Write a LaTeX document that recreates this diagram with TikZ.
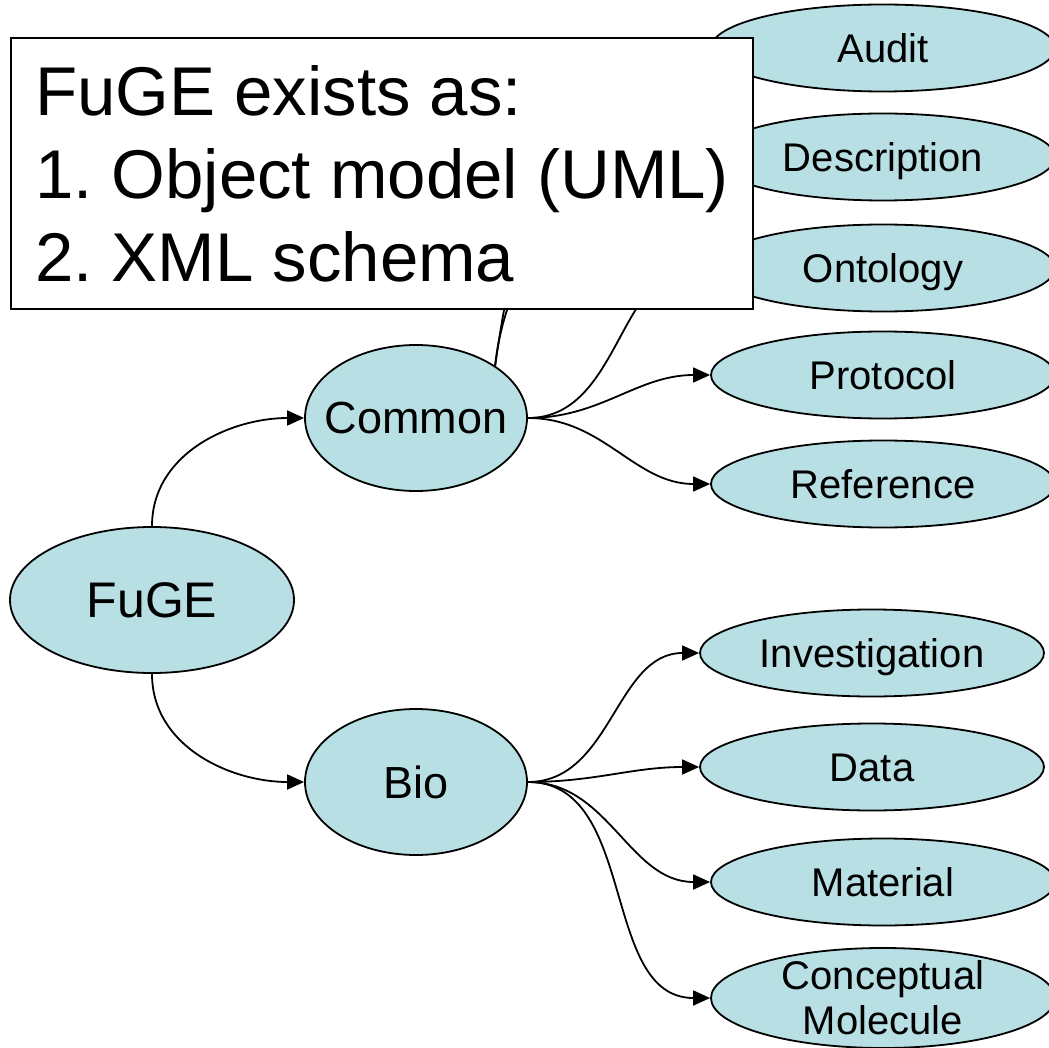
\documentclass[tikz,border=0pt]{standalone}
\usepackage{fontspec}
\setmainfont{Liberation Sans}
\usetikzlibrary{arrows.meta,shapes.geometric}
\frenchspacing

\definecolor{nodeblue}{RGB}{184,223,228}

\tikzset{
    blob/.style={ellipse, draw, line width=1.8pt, fill=nodeblue, inner sep=0pt},
    rootnode/.style={blob, minimum width=284pt, minimum height=146pt, font=\fontsize{50}{60}\selectfont},
    midnode/.style={blob, inner xsep=-20pt, minimum width=222pt, minimum height=146pt, font=\fontsize{45}{54}\selectfont},
    leaf/.style={blob, minimum width=344pt, minimum height=87pt, font=\fontsize{40}{45}\selectfont, text height=28.6pt, text depth=0pt},
    leaftwo/.style={blob, inner ysep=-4pt, minimum width=344pt, minimum height=100pt, font=\fontsize{40}{45}\selectfont, align=center},
    link/.style={-{Triangle[length=17pt,width=15pt]}, line width=1.8pt},
    notebox/.style={draw, line width=2pt, fill=white, align=left, inner xsep=24pt, minimum width=740pt, minimum height=271pt, font=\fontsize{69}{83}\selectfont},
}

\begin{document}
\begin{tikzpicture}[x=1pt, y=1pt]
    \useasboundingbox (0,0) rectangle (1049,-1048);

    % main nodes
    \node[rootnode] (fuge) at (152,-600) {FuGE};
    \node[midnode] (common) at (416,-418) {Common};
    \node[midnode] (bio) at (416,-782) {Bio};

    % Common packages
    \node[leaf] (audit) at (883,-48) {Audit};
    \node[leaf] (descr) at (883,-157) {Description};
    \node[leaf] (onto) at (883,-268) {Ontology};
    \node[leaf] (proto) at (883,-375) {Protocol};
    \node[leaf] (refer) at (883,-484) {Reference};

    % Bio packages
    \node[leaf] (invest) at (872,-653) {Investigation};
    \node[leaf] (data) at (872,-767) {Data};
    \node[leaf] (material) at (883,-882) {Material};
    \node[leaftwo] (concept) at (883,-998) {Conceptual\\Molecule};

    \draw[link] (fuge.north) to[out=90, in=180] (common.west);
    \draw[link] (fuge.south) to[out=-90, in=180] (bio.west);

    \draw[link] (common.north east) to[out=82, in=180] (audit.west);
    \draw[link] (common.north east) to[out=84, in=180] (descr.west);
    \draw[link] (common.east) to[out=0, in=180] (onto.west);
    \draw[link] (common.east) to[out=0, in=180] (proto.west);
    \draw[link] (common.east) to[out=0, in=180] (refer.west);

    \draw[link] (bio.east) to[out=0, in=180] (invest.west);
    \draw[link] (bio.east) to[out=0, in=180] (data.west);
    \draw[link] (bio.east) to[out=0, in=180] (material.west);
    \draw[link] (bio.east) to[out=0, in=180] (concept.west);

    % text box over the top
    \node[notebox, anchor=north west] (note) at (10,-37) {FuGE exists as:\\1. Object model (UML)\\2. XML schema};
\end{tikzpicture}
\end{document}
